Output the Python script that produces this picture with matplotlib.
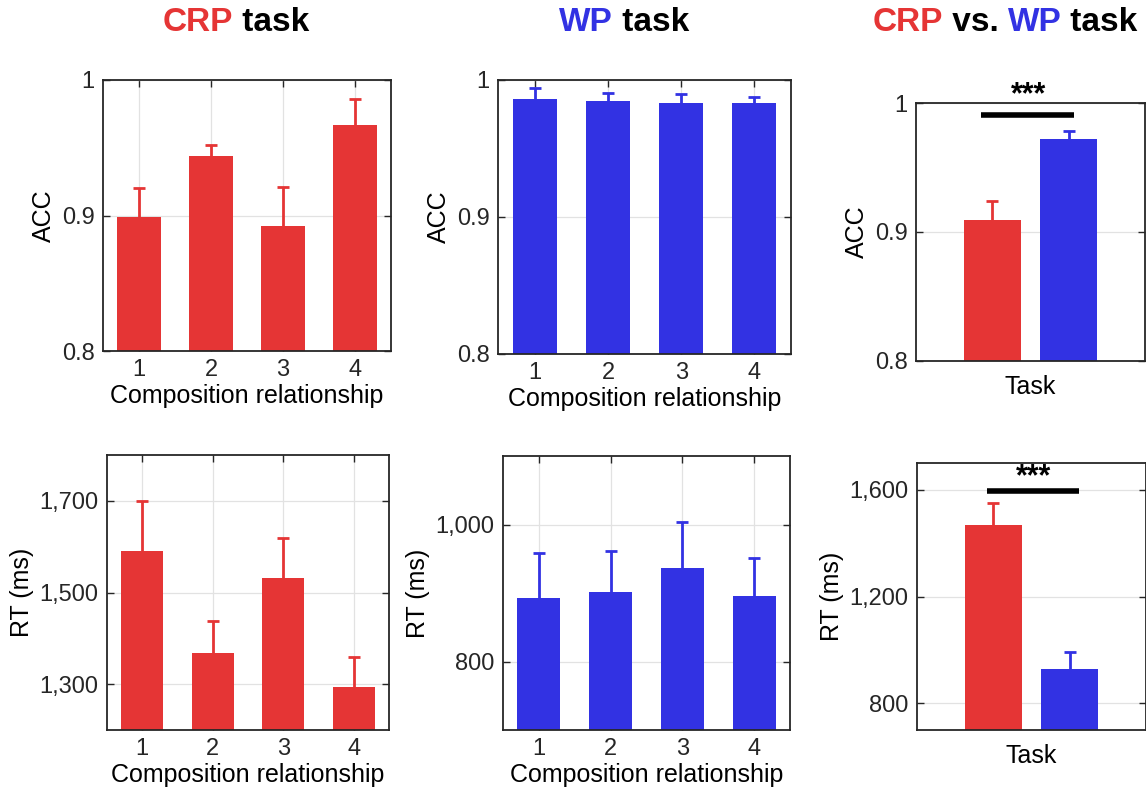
import matplotlib
matplotlib.use('Agg')
import matplotlib.pyplot as plt
import numpy as np
from matplotlib.ticker import FuncFormatter

plt.rcParams['font.family'] = ['Liberation Sans', 'DejaVu Sans']

RED = '#E53535'
BLUE = '#3232E3'

# ---- data ----
relations = [1, 2, 3, 4]
crp_acc = [0.899, 0.944, 0.892, 0.967]
crp_acc_err = [0.0215, 0.008, 0.029, 0.019]
wp_acc = [0.986, 0.985, 0.983, 0.983]
wp_acc_err = [0.008, 0.0055, 0.0066, 0.0048]
crp_rt = [1590, 1367, 1531, 1294]
crp_rt_err = [109, 70, 88, 66]
wp_rt = [892, 901, 936, 895]
wp_rt_err = [67, 61, 67, 56]
tasks = ['CRP', 'WP']
task_acc = [0.909, 0.972]
task_acc_err = [0.015, 0.006]
task_rt = [1469, 928]
task_rt_err = [82, 64]


def style_axes(ax):
    for s in ax.spines.values():
        s.set_color('#262626')
        s.set_linewidth(1.3)
    ax.tick_params(direction='in', top=True, right=True, length=5, width=1,
                   labelsize=17, colors='#262626', pad=6)
    ax.grid(True, color='#e2e2e2', linewidth=0.9)
    ax.set_axisbelow(True)


def bars(ax, x, vals, errs, colors, width):
    ax.bar(x, vals, width=width, color=colors, zorder=2)
    for xi, v, e, c in zip(x, vals, errs, colors):
        # upper whisker only
        eb = ax.errorbar(xi, v, yerr=[[0], [e]], fmt='none', ecolor=c,
                         elinewidth=2, capsize=4, capthick=2, zorder=3)
        eb[1][0].set_visible(False)


acc_fmt = FuncFormatter(lambda v, p: '%g' % round(v, 2))
rt_fmt = FuncFormatter(lambda v, p: '{:,.0f}'.format(v))

fig = plt.figure(figsize=(11.46, 7.96), dpi=100)

# ---- top row: accuracy ----
ax1 = fig.add_axes([0.0899, 0.559, 0.2513, 0.3405])
bars(ax1, relations, crp_acc, crp_acc_err, [RED] * 4, 0.6)
ax1.set_xlim(0.5, 4.5)
ax1.set_ylim(0.8, 1.0)
ax1.set_yticks([0.8, 0.9, 1.0])
ax1.yaxis.set_major_formatter(acc_fmt)
ax1.set_xticks(relations)
ax1.set_ylabel('ACC', fontsize=18)
ax1.set_xlabel('Composition relationship', fontsize=18, labelpad=2)
style_axes(ax1)

ax2 = fig.add_axes([0.4346, 0.5553, 0.2557, 0.3442])
bars(ax2, relations, wp_acc, wp_acc_err, [BLUE] * 4, 0.6)
ax2.set_xlim(0.5, 4.5)
ax2.set_ylim(0.8, 1.0)
ax2.set_yticks([0.8, 0.9, 1.0])
ax2.yaxis.set_major_formatter(acc_fmt)
ax2.set_xticks(relations)
ax2.set_ylabel('ACC', fontsize=18)
ax2.set_xlabel('Composition relationship', fontsize=18, labelpad=2)
style_axes(ax2)

ax3 = fig.add_axes([0.7993, 0.5465, 0.1998, 0.3241])
bars(ax3, [1, 2], task_acc, task_acc_err, [RED, BLUE], 0.75)
ax3.set_xlim(0, 3)
ax3.set_ylim(0.8, 1.0)
ax3.set_yticks([0.8, 0.9, 1.0])
ax3.yaxis.set_major_formatter(acc_fmt)
ax3.set_xticks([])
ax3.set_ylabel('ACC', fontsize=18)
ax3.set_xlabel('Task', fontsize=18, labelpad=10)
style_axes(ax3)
ax3.plot([0.85, 2.07], [0.991, 0.991], color='black', lw=4, solid_capstyle='butt', zorder=4)
ax3.text(1.47, 0.994, '***', ha='center', va='bottom', fontsize=22,
         fontweight='bold', clip_on=False)

# ---- bottom row: reaction time ----
ax4 = fig.add_axes([0.0934, 0.0829, 0.2461, 0.3455])
bars(ax4, relations, crp_rt, crp_rt_err, [RED] * 4, 0.6)
ax4.set_xlim(0.5, 4.5)
ax4.set_ylim(1200, 1800)
ax4.set_yticks([1300, 1500, 1700])
ax4.yaxis.set_major_formatter(rt_fmt)
ax4.set_xticks(relations)
ax4.set_ylabel('RT (ms)', fontsize=18)
ax4.set_xlabel('Composition relationship', fontsize=18, labelpad=2)
style_axes(ax4)

ax5 = fig.add_axes([0.4389, 0.0829, 0.2504, 0.3442])
bars(ax5, relations, wp_rt, wp_rt_err, [BLUE] * 4, 0.6)
ax5.set_xlim(0.5, 4.5)
ax5.set_ylim(700, 1100)
ax5.set_yticks([800, 1000])
ax5.yaxis.set_major_formatter(rt_fmt)
ax5.set_xticks(relations)
ax5.set_ylabel('RT (ms)', fontsize=18)
ax5.set_xlabel('Composition relationship', fontsize=18, labelpad=2)
style_axes(ax5)

ax6 = fig.add_axes([0.8002, 0.0829, 0.1998, 0.3354])
bars(ax6, [1, 2], task_rt, task_rt_err, [RED, BLUE], 0.75)
ax6.set_xlim(0, 3)
ax6.set_ylim(700, 1700)
ax6.set_yticks([800, 1200, 1600])
ax6.yaxis.set_major_formatter(rt_fmt)
ax6.set_xticks([])
ax6.set_ylabel('RT (ms)', fontsize=18)
ax6.set_xlabel('Task', fontsize=18, labelpad=10)
style_axes(ax6)
ax6.plot([0.92, 2.12], [1596, 1596], color='black', lw=4, solid_capstyle='butt', zorder=4)
ax6.text(1.53, 1592, '***', ha='center', va='bottom', fontsize=22,
         fontweight='bold')


# ---- multicoloured column titles ----
def colored_title(xc, yc, parts):
    renderer = fig.canvas.get_renderer()
    texts = []
    widths = []
    for s, c in parts:
        t = fig.text(0, yc, s, color=c, fontsize=24, fontweight='bold',
                     va='center', ha='left')
        w = t.get_window_extent(renderer).width / fig.bbox.width
        texts.append(t)
        widths.append(w)
    x = xc - sum(widths) / 2
    for t, w in zip(texts, widths):
        t.set_x(x)
        x += w


colored_title(0.206, 0.972, [('CRP', RED), (' task', 'black')])
colored_title(0.5445, 0.972, [('WP', BLUE), (' task', 'black')])
colored_title(0.877, 0.972, [('CRP', RED), (' vs. ', 'black'),
                             ('WP', BLUE), (' task', 'black')])

fig.savefig('out.png', dpi=100)
